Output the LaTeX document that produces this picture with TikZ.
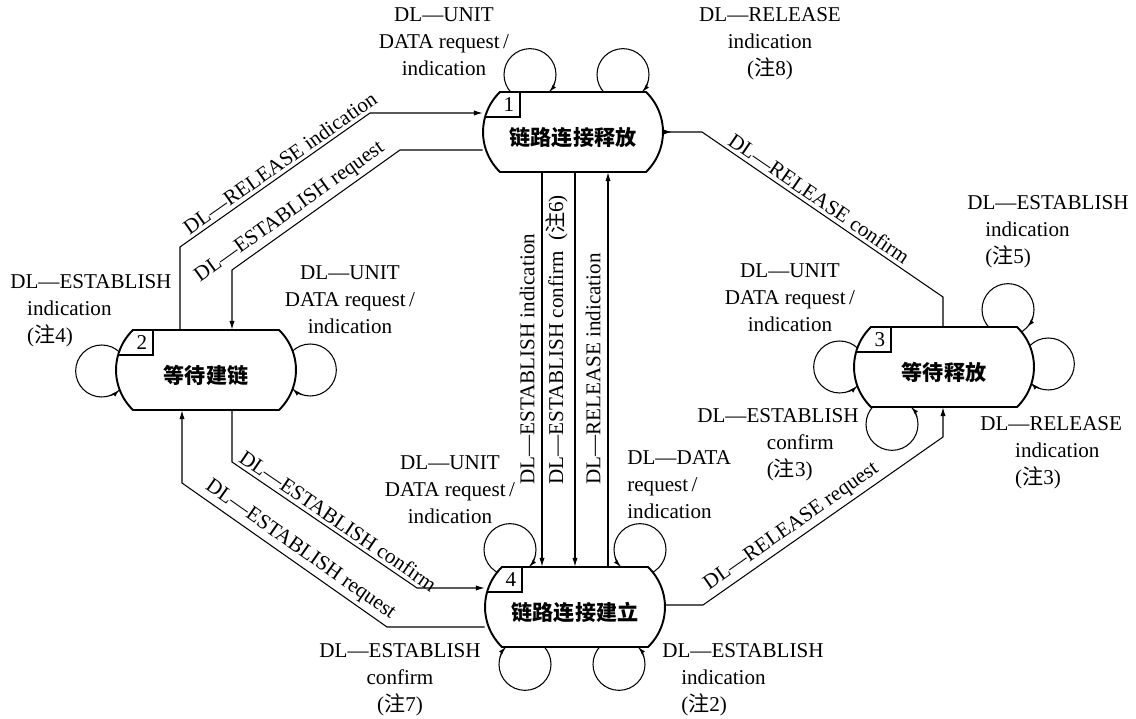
\documentclass[tikz,border=0pt]{standalone}
\usepackage{fontspec}
\setmainfont{Liberation Serif}
\newfontfamily\cjk{Noto Sans CJK SC}
\usepackage{tikz}
\usetikzlibrary{
    arrows.meta,
    calc
}
\pgfdeclarelayer{bg}
\pgfsetlayers{bg,main}

\newcommand\zhu[1]{({\cjk 注}#1)}

% state: name, centre, number, text
\newcommand\statebox[4]{%
  \filldraw[stateline] ($(#2)+(-73,40)$) -- ($(#2)+(73,40)$)
    arc[start angle=46,end angle=-46,radius=55.6]
    -- ($(#2)+(-73,-40)$)
    arc[start angle=226,end angle=134,radius=55.6] -- cycle;
  \draw[stateline] ($(#2)+(-53,40)$) -- ++(0,-25) -- ++(-35,0);
  \node[numtext] (#1n) at ($(#2)+(-64,27)$) {#3};
  \node[statebody] (#1) at (#2) {#4};
}

\begin{document}
\begin{tikzpicture}[x=0.02cm,y=0.02cm,
  >={Latex[length=5pt,width=3pt]},
  stateline/.style={line width=1.1pt,fill=white},
  statebody/.style={minimum width=3.6cm,minimum height=1.6cm,inner sep=0pt,
    text height=17pt,text depth=2pt,font=\cjk\bfseries\fontsize{12}{14}\selectfont},
  numtext/.style={inner sep=0pt,font=\fontsize{12}{14}\selectfont},
  conn/.style={line width=0.6pt},
  loopline/.style={line width=0.6pt},
  looptip/.style={line width=0.6pt,-{Latex[length=4pt,width=2.5pt]}},
  lbl/.style={inner sep=0pt,font=\fontsize{12}{15.3}\selectfont},
  dlbl/.style={sloped,above,inner sep=2pt,font=\fontsize{12}{14}\selectfont},
  vlbl/.style={rotate=90,anchor=south west,inner sep=4pt,font=\fontsize{12}{14}\selectfont}]

\useasboundingbox (0,0) rectangle (1136,719);

% States
\statebox{s1}{573,587}{1}{链路连接释放}
\statebox{s2}{206,349}{2}{等待建链}
\statebox{s3}{944,352}{3}{等待释放}
\statebox{s4}{575,112}{4}{链路连接建立}

% Self loops
\coordinate (l1) at ($(s1.north)+(-43,17)$);
\coordinate (l2) at ($(s1.north)+(50,17)$);
\coordinate (l3) at ($(s2.west)+(-14,-1)$);
\coordinate (l4) at ($(s2.east)+(14,0)$);
\coordinate (l5) at ($(s3.north)+(64,17)$);
\coordinate (l6) at ($(s3.east)+(14,3)$);
\coordinate (l7) at ($(s3.south)+(-52,-17)$);
\coordinate (l8) at ($(s3.west)+(-14,0)$);
\coordinate (l9) at ($(s4.north)+(-65,17)$);
\coordinate (l10) at ($(s4.north)+(65,17)$);
\coordinate (l11) at ($(s4.south)+(-50,-17)$);
\coordinate (l12) at ($(s4.south)+(44,-17)$);

\begin{pgfonlayer}{bg}
\foreach \c in {l1,l2,l3,l4,l5,l6,l7,l8,l9,l10,l11,l12}
  \draw[loopline] (\c) circle[radius=26];
\end{pgfonlayer}

\foreach \c/\s/\e in {l1/-15.8/-40.8, l2/-15.8/-40.8, l3/287/312, l4/-107/-132,
    l5/-15.8/-40.8, l6/-107/-132, l7/15.8/40.8, l8/287/312,
    l9/-15.8/-40.8, l10/195.8/220.8, l11/-195.8/-220.8, l12/15.8/40.8}
  \draw[looptip] (\c) ++(\s:26) arc[start angle=\s,end angle=\e,radius=26];

% Transitions
\coordinate (a1) at (180,472);
\coordinate (a2) at (370,606);
\coordinate (b1) at (232,449);
\coordinate (b2) at (400,569);
\coordinate (c1) at (232,257);
\coordinate (c2) at (417,131);
\coordinate (d1) at (182,236);
\coordinate (d2) at (387,92);
\coordinate (e1) at (702,587);
\coordinate (e2) at (943,422);
\coordinate (f1) at (703,114);
\coordinate (f2) at (943,282);
\coordinate (g1) at (542,350);
\coordinate (g2) at (575,350);
\coordinate (g3) at (608,350);

\draw[conn,->] (a1 |- s2.north) -- (a1) -- (a2) -- (a2 -| s1.west);
\draw[conn,->] (b2 -| s1.west) -- (b2) -- (b1) -- (b1 |- s2.north);
\draw[conn,->] (c1 |- s2.south) -- (c1) -- (c2) -- (c2 -| s4.west);
\draw[conn,->] (d2 -| s4.west) -- (d2) -- (d1) -- (d1 |- s2.south);
\draw[conn,-{Latex[length=5pt,width=3pt,reversed]}] (e2 |- s3.north) -- (e2) -- (e1) -- (e1 -| s1.east);
\draw[conn,->] (f1 -| s4.east) -- (f1) -- (f2) -- (f2 |- s3.south);
\draw[conn,->] (g1 |- s1.south) -- (g1 |- s4.north);
\draw[conn,->] (g2 |- s1.south) -- (g2 |- s4.north);
\draw[conn,->] (g3 |- s4.north) -- (g3 |- s1.south);

% Transition labels
\path (a1) -- node[dlbl,pos=0.56] (t1) {DL—RELEASE indication} (a2);
\path (b1) -- node[dlbl,pos=0.39] (t2) {DL—ESTABLISH request} (b2);
\path (c1) -- node[dlbl,pos=0.54] (t3) {DL—ESTABLISH confirm} (c2);
\path (d1) -- node[dlbl,pos=0.54] (t4) {DL—ESTABLISH request} (d2);
\path (e1) -- node[dlbl,pos=0.46] (t5) {DL—RELEASE confirm} (e2);
\path (f1) -- node[dlbl,pos=0.40] (t6) {DL—RELEASE request} (f2);

\node[vlbl] (u1) at (542,227) {DL—ESTABLISH indication};
\node[vlbl] (u2) at (575,227) {DL—ESTABLISH\ confirm\ \ \zhu6};
\node[vlbl] (u3) at (608,227) {DL—RELEASE indication};

% Loop labels
\node[lbl,align=center] (m1) at (444,677) {DL—UNIT\\DATA request\,/\\indication};
\node[lbl,align=center] (m2) at (770,675) {DL—RELEASE\\indication\\\zhu8};
\node[lbl,align=left,anchor=west] (m3) at (10,408) {DL—ESTABLISH\\\hspace*{0.8em}indication\\\hspace*{0.8em}\zhu4};
\node[lbl,align=center] (m4) at (350,419) {DL—UNIT\\DATA request\,/\\indication};
\node[lbl,align=center] (m5) at (790,421) {DL—UNIT\\DATA request\,/\\indication};
\node[lbl,align=left,anchor=west] (m6) at (967,487) {DL—ESTABLISH\\\hspace*{0.85em}indication\\\hspace*{0.85em}\zhu5};
\node[lbl,align=left,anchor=west] (m7) at (980,266) {DL—RELEASE\\\hspace*{1.65em}indication\\\hspace*{1.65em}\zhu3};
\node[lbl,align=left,anchor=west] (m8) at (697,274) {DL—ESTABLISH\\\hspace*{3.3em}confirm\\\hspace*{3.3em}\zhu3};
\node[lbl,align=left,anchor=west] (m9) at (627,234) {DL—DATA\\request\,/\\indication};
\node[lbl,align=center] (m10) at (450,229) {DL—UNIT\\DATA request\,/\\indication};
\node[lbl,align=center] (m11) at (400,39) {DL—ESTABLISH\\confirm\\\zhu7};
\node[lbl,align=left,anchor=west] (m12) at (662,39) {DL—ESTABLISH\\\hspace*{0.9em}indication\\\hspace*{0.9em}\zhu2};

\end{tikzpicture}
\end{document}
